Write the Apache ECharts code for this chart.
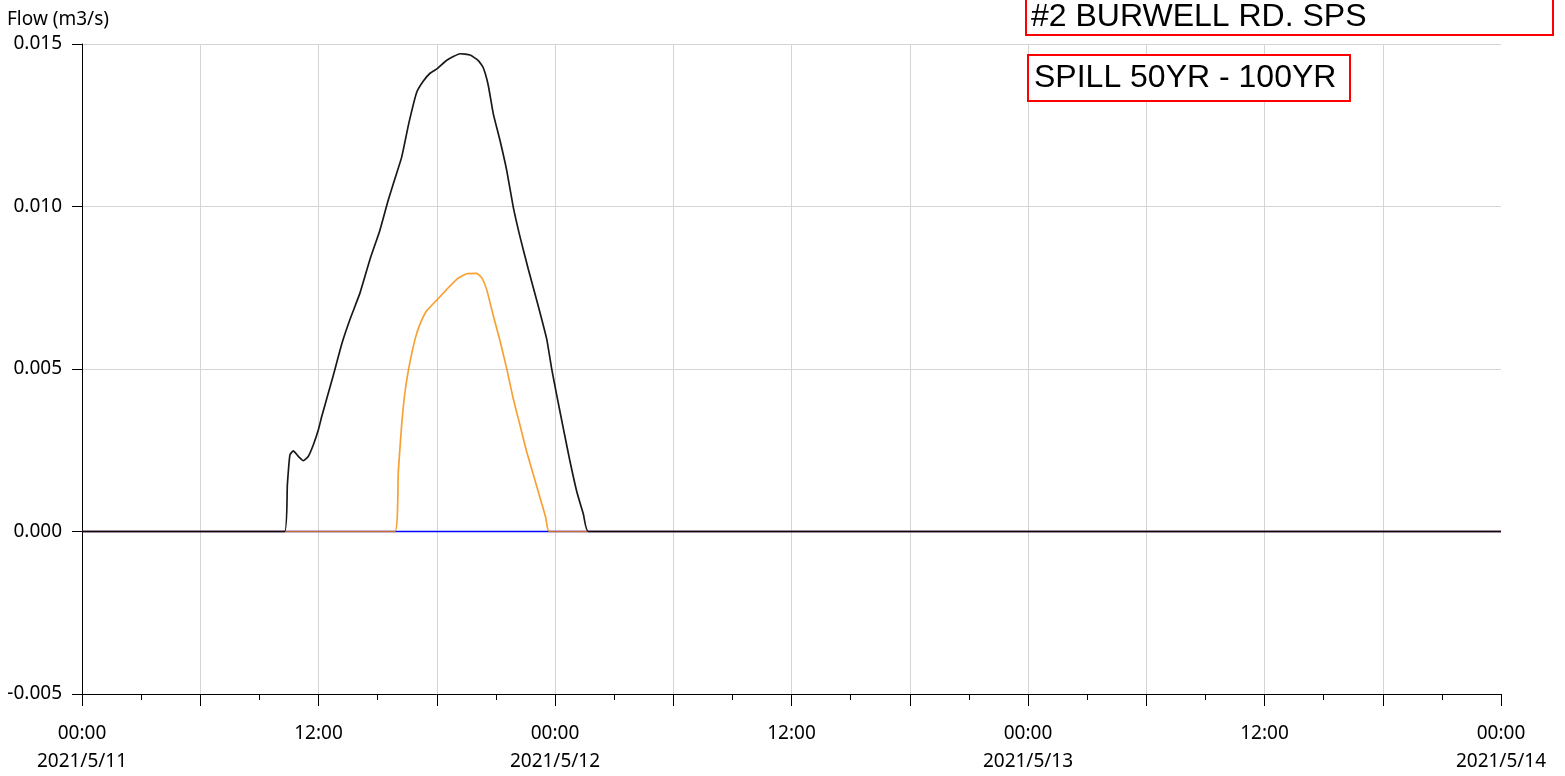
<!DOCTYPE html>
<html>
<head>
<meta charset="utf-8">
<script src="https://cdn.jsdelivr.net/npm/echarts@6/dist/echarts.min.js"></script>
<style>
html,body{margin:0;padding:0;background:#fff;}
#chart{width:1565px;height:776px;}
</style>
</head>
<body>
<div id="chart"></div>
<script>
// ---- data (time = hours after 2021-05-11 00:00) ----
const START = Date.UTC(2021, 4, 11, 0, 0, 0);
const END = Date.UTC(2021, 4, 14, 0, 0, 0);
const yTicks = [-0.005, 0.000, 0.005, 0.010, 0.015];
const titleMain = '#2 BURWELL RD. SPS';
const titleSub = 'SPILL 50YR - 100YR';
const yName = 'Flow (m3/s)';

const blueHours = [0, 72];
const blueFlow = [0, 0];

const orangeHours = [0, 15.88, 16.05, 16.22, 16.39, 16.64, 16.90, 17.15, 17.49, 18.00, 18.51, 19.01, 19.52, 20.03, 20.28, 20.53, 20.87, 21.21, 21.55, 21.88, 22.22, 22.56, 22.90, 23.24, 23.53, 23.71, 72];
const orangeFlow = [0, 0, 0.00185, 0.00328, 0.00430, 0.00521, 0.00592, 0.00638, 0.00679, 0.00712, 0.00745, 0.00776, 0.00793, 0.00794, 0.00781, 0.00745, 0.00664, 0.00587, 0.00501, 0.00409, 0.00328, 0.00246, 0.00175, 0.00104, 0.00043, 0, 0];

const blackHours = [0, 10.28, 10.42, 10.55, 10.72, 10.98, 11.23, 11.48, 11.74, 11.99, 12.16, 12.42, 12.75, 13.18, 13.60, 14.11, 14.61, 15.12, 15.54, 15.88, 16.22, 16.59, 16.98, 17.32, 17.66, 18.04, 18.51, 19.18, 19.69, 20.11, 20.36, 20.61, 20.87, 21.21, 21.55, 21.88, 22.22, 22.65, 23.15, 23.58, 23.83, 24.09, 24.42, 24.76, 25.10, 25.44, 25.69, 72];
const blackFlow = [0, 0, 0.00144, 0.00236, 0.00248, 0.00231, 0.00218, 0.00231, 0.00267, 0.00312, 0.00353, 0.00409, 0.00480, 0.00577, 0.00653, 0.00735, 0.00837, 0.00928, 0.01020, 0.01086, 0.01152, 0.01258, 0.01351, 0.01386, 0.01410, 0.01425, 0.01450, 0.01470, 0.01466, 0.01449, 0.01427, 0.01374, 0.01285, 0.01203, 0.01111, 0.00999, 0.00908, 0.00806, 0.00694, 0.00592, 0.00501, 0.00419, 0.00318, 0.00216, 0.00124, 0.00053, 0, 0];

function toPairs(hours, vals) {
  return hours.map((h, i) => [START + h * 3600 * 1000, vals[i]]);
}
function pad(n) { return (n < 10 ? '0' : '') + n; }

const FONT = '"Noto Sans", "Open Sans", sans-serif';
const chart = echarts.init(document.getElementById('chart'), null, {renderer: 'canvas'});
chart.setOption({
  animation: false,
  backgroundColor: '#fff',
  grid: {left: 82, right: 64, top: 44, bottom: 77, containLabel: false},
  xAxis: {
    type: 'value',
    min: START,
    max: END,
    interval: 6 * 3600 * 1000,
    axisLine: {show: true, onZero: false, lineStyle: {color: '#000', width: 1}},
    axisTick: {show: true, length: 12, inside: false, lineStyle: {color: '#000'}},
    minorTick: {show: true, splitNumber: 2, length: 6, lineStyle: {color: '#000'}},
    splitLine: {show: true, showMaxLine: false, lineStyle: {color: '#d4d4d4', width: 1}},
    axisLabel: {
      margin: 26,
      fontFamily: FONT,
      fontSize: 19,
      lineHeight: 28,
      color: '#000',
      showMinLabel: true,
      showMaxLabel: true,
      hideOverlap: false,
      formatter: function (v) {
        const d = new Date(v);
        const h = d.getUTCHours();
        if (h % 12 !== 0) return '';
        let s = pad(h) + ':' + pad(d.getUTCMinutes());
        if (h === 0) s += '\n' + d.getUTCFullYear() + '/' + (d.getUTCMonth() + 1) + '/' + d.getUTCDate();
        return s;
      }
    }
  },
  yAxis: {
    type: 'value',
    min: yTicks[0],
    max: yTicks[yTicks.length - 1],
    interval: 0.005,
    axisLine: {show: true, lineStyle: {color: '#000', width: 1}},
    axisTick: {show: true, length: 10, inside: false, lineStyle: {color: '#000'}},
    splitLine: {show: true, lineStyle: {color: '#d4d4d4', width: 1}},
    axisLabel: {
      margin: 20,
      fontFamily: FONT,
      fontSize: 19,
      color: '#000',
      formatter: v => v.toFixed(3)
    }
  },
  series: [
    {type: 'line', name: 'blue', data: toPairs(blueHours, blueFlow), showSymbol: false,
     lineStyle: {color: '#0000ff', width: 1.6}, z: 2},
    {type: 'line', name: 'orange', data: toPairs(orangeHours, orangeFlow), showSymbol: false, smooth: 0.15,
     lineStyle: {color: '#f58a00', width: 1.7, opacity: 0.8}, z: 3},
    {type: 'line', name: 'black', data: toPairs(blackHours, blackFlow), showSymbol: false, smooth: 0.15,
     lineStyle: {color: '#000000', width: 1.7, opacity: 0.9}, z: 4}
  ],
  graphic: [
    {type: 'text', left: 7, top: 10, style: {text: yName, font: '19px ' + FONT, fill: '#000'}},
    {type: 'rect', shape: {x: 1026, y: -6, width: 527, height: 41}, style: {fill: 'rgba(0,0,0,0)', stroke: '#ff0000', lineWidth: 2}, z: 100},
    {type: 'text', x: 1031, y: 17, style: {text: titleMain, font: '32px "Liberation Sans", Arial, sans-serif', fill: '#000', verticalAlign: 'middle', align: 'left'}, z: 100},
    {type: 'rect', shape: {x: 1028, y: 55, width: 322, height: 46}, style: {fill: '#fff', stroke: '#ff0000', lineWidth: 2}, z: 100},
    {type: 'text', x: 1034, y: 78, style: {text: titleSub, font: '32px "Liberation Sans", Arial, sans-serif', fill: '#000', verticalAlign: 'middle', align: 'left'}, z: 101}
  ]
});
</script>
</body>
</html>
